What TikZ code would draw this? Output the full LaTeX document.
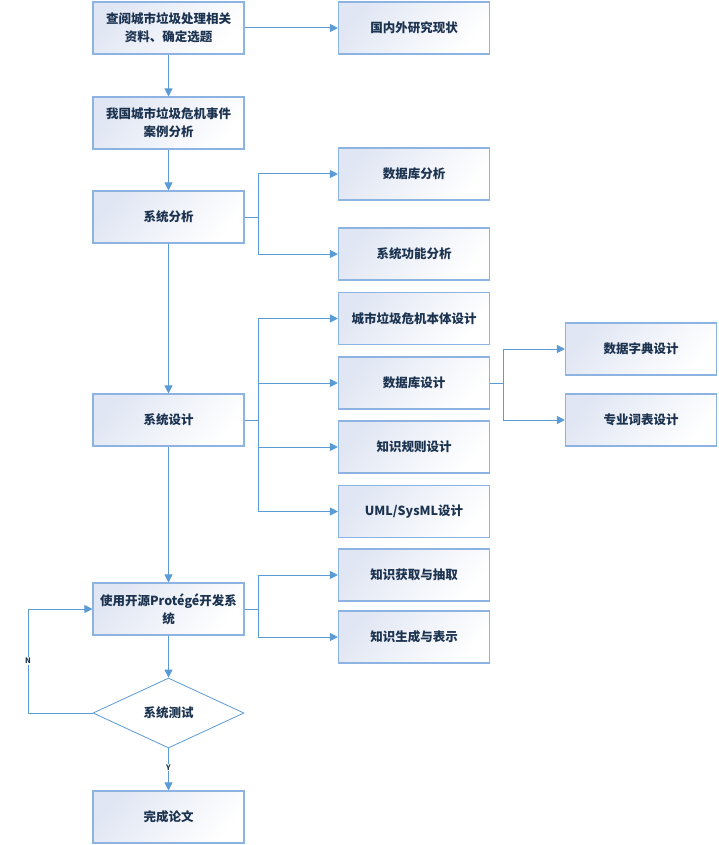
\documentclass[tikz,border=0pt]{standalone}
\usepackage{fontspec}
\setmainfont{Noto Sans CJK SC}
\usetikzlibrary{shapes.geometric,arrows.meta}
\definecolor{bordc}{HTML}{8DB3E2}
\definecolor{linec}{HTML}{5B9BD5}
\definecolor{txtc}{HTML}{1C3350}
\definecolor{shadec}{HTML}{E0E6F3}
\begin{document}
\begin{tikzpicture}[x=1pt,y=-1pt,
  every node/.style={font=\fontsize{12.5}{18}\selectfont\bfseries, text=txtc},
  box/.style={rectangle, draw=bordc, line width=1.1pt, minimum width=151pt, minimum height=52pt,
    inner sep=2pt, align=center, left color=shadec, right color=white, shading angle=50},
  dia/.style={diamond, draw=linec, line width=0.8pt, minimum width=151pt, minimum height=70pt,
    inner sep=0pt, fill=white},
  conn/.style={draw=linec, line width=1pt},
  arr/.style={conn, -{Triangle[length=8pt,width=8pt]}},
  lbl/.style={font=\fontsize{7.5}{8}\selectfont\bfseries, fill=white, inner sep=1pt}
]
\useasboundingbox (0,0) rectangle (718,845);

\node[box] (n1) at (168.5,28) {查阅城市垃圾处理相关\\资料、确定选题};
\node[box] (n1r) at (414,28) {国内外研究现状};
\node[box] (n2) at (168.5,123) {我国城市垃圾危机事件\\案例分析};
\node[box] (n3) at (168.5,217) {系统分析};
\node[box] (a1) at (414,174) {数据库分析};
\node[box] (a2) at (414,254) {系统功能分析};
\node[box] (n4) at (168.5,420) {系统设计};
\node[box] (d1) at (414,318.5) {城市垃圾危机本体设计};
\node[box] (d2) at (414,383) {数据库设计};
\node[box] (d3) at (414,447) {知识规则设计};
\node[box] (d4) at (414,511.5) {UML/SysML设计};
\node[box] (e1) at (641,349) {数据字典设计};
\node[box] (e2) at (641,420) {专业词表设计};
\node[box] (n5) at (168.5,609) {使用开源Protégé开发系\\统};
\node[box] (k1) at (414,575) {知识获取与抽取};
\node[box] (k2) at (414,637) {知识生成与表示};
\node[dia] (t) at (168.5,713) {系统测试};
\node[box] (n6) at (168.5,817) {完成论文};

\coordinate (b3) at (258.5,217);
\coordinate (b4) at (258.5,420);
\coordinate (bd) at (503.5,383);
\coordinate (b5) at (258.5,609);
\coordinate (lp) at (28,713);

\draw[arr] (n1) -- (n1r);
\draw[arr] (n1) -- (n2);
\draw[arr] (n2) -- (n3);
\draw[arr] (n3) -- (n4);
\draw[arr] (n4) -- (n5);
\draw[arr] (n5) -- (t);
\draw[arr] (t) -- node[lbl, pos=0.45]{Y} (n6);

\draw[conn] (n3.east) -- (b3);
\draw[arr] (b3) |- (a1.west);
\draw[arr] (b3) |- (a2.west);

\draw[conn] (n4.east) -- (b4);
\draw[arr] (b4) |- (d1.west);
\draw[arr] (b4) |- (d2.west);
\draw[arr] (b4) |- (d3.west);
\draw[arr] (b4) |- (d4.west);

\draw[conn] (d2.east) -- (bd);
\draw[arr] (bd) |- (e1.west);
\draw[arr] (bd) |- (e2.west);

\draw[conn] (n5.east) -- (b5);
\draw[arr] (b5) |- (k1.west);
\draw[arr] (b5) |- (k2.west);

\draw[conn] (t.west) -- (lp);
\draw[arr] (lp) |- node[lbl, pos=0.25]{N} (n5.west);
\end{tikzpicture}
\end{document}
